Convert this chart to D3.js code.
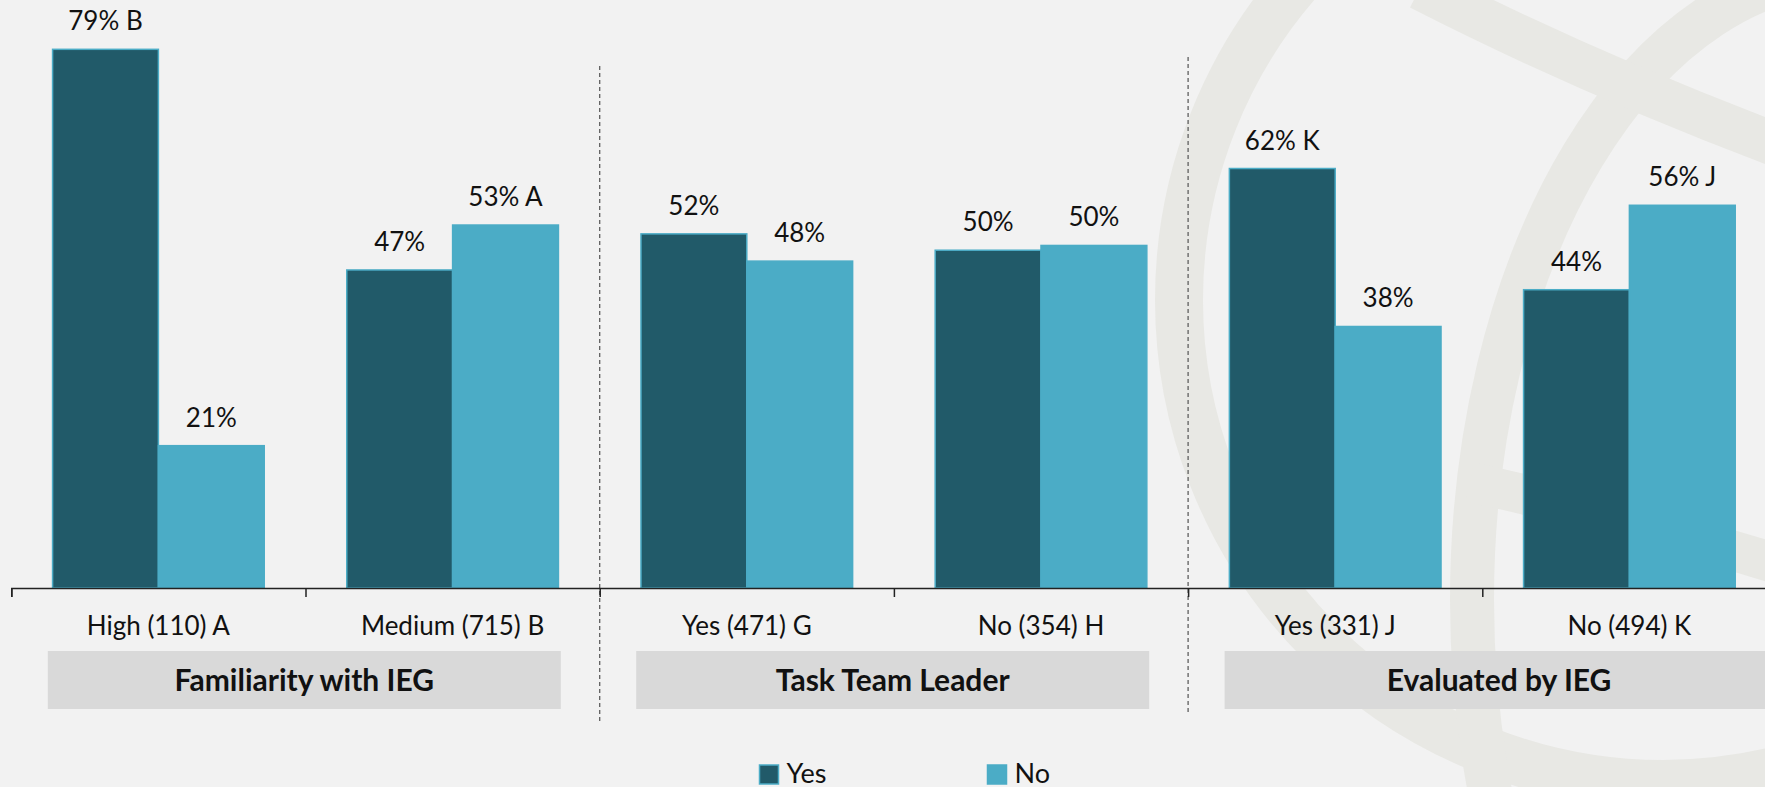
<!DOCTYPE html>
<meta charset="utf-8">
<script src="https://cdn.jsdelivr.net/npm/d3@7/dist/d3.min.js"></script>
<style>
body { margin: 0; background: #f2f2f2; overflow: hidden; }
text { font-family: Lato, Carlito, "Noto Sans", sans-serif; fill: #111; }
.value { font-size: 26px; text-anchor: middle; }
.cat { font-size: 26px; text-anchor: middle; }
.group-title { font-size: 30px; font-weight: bold; text-anchor: middle; }
.legend text { font-size: 27px; }
.axis path, .axis line { stroke: #222; stroke-width: 1.5; }
.divider { stroke: #5f5f5f; stroke-width: 1.3; stroke-dasharray: 4 3; }
.mark { fill: none; stroke: #e8e8e4; }
</style>
<body>
<div id="chart"></div>
<script>
// data
var categories = ["High (110) A", "Medium (715) B", "Yes (471) G", "No (354) H", "Yes (331) J", "No (494) K"]
var groups = ["Familiarity with IEG", "Task Team Leader", "Evaluated by IEG"]
var series = ["Yes", "No"]
var yesValues = [79.1, 46.7, 52.0, 49.6, 61.6, 43.8]
var noValues = [20.9, 53.3, 48.0, 50.3, 38.4, 56.2]
var yesLabels = ["79% B", "47%", "52%", "50%", "62% K", "44%"]
var noLabels = ["21%", "53% A", "48%", "50%", "38%", "56% J"]

var colors = {Yes: "#215a69", No: "#4bacc6"}

width = 1765
height = 787
axisY = 588

svg = d3.select("#chart").append("svg")
  .attr("width", width)
  .attr("height", height)

//faint globe in the background
wm = svg.append("g").attr("class", "watermark")
wm.append("circle").attr("class", "mark")
  .attr("cx", 1663).attr("cy", 300).attr("r", 484)
  .attr("stroke-width", 48)
wm.append("ellipse").attr("class", "mark")
  .attr("cx", 1850).attr("cy", 600).attr("rx", 378).attr("ry", 628)
  .attr("stroke-width", 44)
wm.append("path").attr("class", "mark")
  .attr("d", "M1420,-12 Q1590,75 1790,150")
  .attr("stroke-width", 44)
wm.append("path").attr("class", "mark")
  .attr("d", "M1470,482 Q1620,515 1790,568")
  .attr("stroke-width", 40)

// scales
x = d3.scaleBand()
  .domain(categories)
  .range([11.3, 11.3 + 6 * 294.2])
  .padding(0)

xs = d3.scaleBand()
  .domain(series)
  .range([0, x.bandwidth()])
  .paddingInner(0)
  .paddingOuter(0.39)

y = d3.scaleLinear()
  .domain([0, 80])
  .range([axisY, axisY - 80 * 6.81])

rows = categories.map(function(c, i) {
  return {cat: c,
          vals: [{s: "Yes", v: yesValues[i], label: yesLabels[i]},
                 {s: "No", v: noValues[i], label: noLabels[i]}]}
})

// dashed separators between groups
var dividerSpans = [[66, 722], [57, 712]]
dividerSpans.forEach(function(span, i) {
  var xx = x(categories[2 * (i + 1)])
  svg.append("line").attr("class", "divider")
    .attr("x1", xx).attr("x2", xx)
    .attr("y1", span[0]).attr("y2", span[1])
})

// bars
cat = svg.selectAll(".cat-group")
  .data(rows).enter()
  .append("g")
    .attr("class", "cat-group")
    .attr("transform", function(d) { return "translate(" + x(d.cat) + ",0)" })

cat.selectAll("rect")
  .data(function(d) { return d.vals }).enter()
  .append("rect")
    .attr("x", function(d) { return xs(d.s) })
    .attr("y", function(d) { return y(d.v) })
    .attr("width", xs.bandwidth())
    .attr("height", function(d) { return axisY - y(d.v) })
    .attr("fill", function(d) { return colors[d.s] })
    .attr("stroke", "#4bacc6")
    .attr("stroke-width", 1.5)

cat.selectAll(".value")
  .data(function(d) { return d.vals }).enter()
  .append("text")
    .attr("class", "value")
    .attr("x", function(d) { return xs(d.s) + xs.bandwidth() / 2 })
    .attr("y", function(d) { return y(d.v) - 19 })
    .text(function(d) { return d.label })

// axis with ticks on category boundaries
edge = d3.scaleLinear().domain([0, categories.length]).range(x.range())
svg.append("g")
  .attr("class", "axis")
  .attr("transform", "translate(0," + axisY + ")")
  .call(d3.axisBottom(edge).ticks(6).tickFormat("").tickSize(9).tickSizeOuter(9))

svg.selectAll(".cat")
  .data(categories).enter()
  .append("text")
    .attr("class", "cat")
    .attr("x", function(d) { return x(d) + x.bandwidth() / 2 })
    .attr("y", 635)
    .text(function(d) { return d })

// group boxes
var boxWidth = [513, 513, 549]
groupG = svg.selectAll(".grp")
  .data(groups).enter()
  .append("g")
    .attr("class", "grp")

groupG.append("rect")
  .attr("x", function(d, i) { return x(categories[2 * i]) + 36.5 })
  .attr("y", 651)
  .attr("width", function(d, i) { return boxWidth[i] })
  .attr("height", 58)
  .attr("fill", "#d9d9d9")

groupG.append("text")
  .attr("class", "group-title")
  .attr("x", function(d, i) { return x(categories[2 * i]) + 36.5 + boxWidth[i] / 2 })
  .attr("y", 691)
  .text(function(d) { return d })

// legend
var legendX = [759.5, 987.5]
legend = svg.append("g").attr("class", "legend")
  .selectAll("g")
  .data(series).enter()
  .append("g")
    .attr("transform", function(d, i) { return "translate(" + legendX[i] + ",765)" })

legend.append("rect")
  .attr("width", 19).attr("height", 19)
  .attr("fill", function(d) { return colors[d] })
  .attr("stroke", "#4bacc6")
  .attr("stroke-width", 1.5)

legend.append("text")
  .attr("x", 27)
  .attr("y", 18)
  .text(function(d) { return d })
</script>
</body>
